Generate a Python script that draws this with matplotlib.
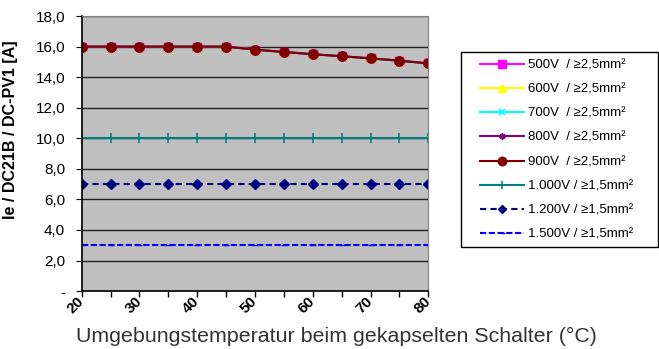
import numpy as np
import matplotlib.pyplot as plt
import matplotlib.transforms as mtransforms
from matplotlib.patches import Rectangle
from matplotlib.ticker import FixedLocator, FuncFormatter

temps = [20, 25, 30, 35, 40, 45, 50, 55, 60, 65, 70, 75, 80]
ie_2_5mm = [16.0, 16.0, 16.0, 16.0, 16.0, 16.0, 15.8, 15.65, 15.5, 15.37, 15.23, 15.08, 14.9]
ie_1000v = [10.0] * len(temps)
ie_1200v = [7.0] * len(temps)
ie_1500v = [3.0] * len(temps)

labels = ["500V  / \u22652,5mm\u00b2", "600V  / \u22652,5mm\u00b2", "700V  / \u22652,5mm\u00b2",
          "800V  / \u22652,5mm\u00b2", "900V  / \u22652,5mm\u00b2", "1.000V / \u22651,5mm\u00b2",
          "1.200V / \u22651,5mm\u00b2", "1.500V / \u22651,5mm\u00b2"]

plt.rcParams['font.family'] = ['Liberation Sans', 'DejaVu Sans']

fig = plt.figure(figsize=(6.59, 3.49), dpi=100)
ax = fig.add_axes([0.124, 0.166, 0.526, 0.788])
ax.set_facecolor('#c0c0c0')

ax.plot(temps, ie_2_5mm, color='#ff00ff', marker='s', ms=6.3, lw=1.5, label=labels[0])
ax.plot(temps, ie_2_5mm, color='#ffff00', marker='^', ms=5.8, lw=1.5, label=labels[1])
ax.plot(temps, ie_2_5mm, color='#00ffff', marker='x', ms=5, mew=1.2, lw=1.5, label=labels[2])
ax.plot(temps, ie_2_5mm, color='#800080', marker=(6, 2, 0), ms=5, mew=1.2, lw=1.5, label=labels[3])
ax.plot(temps, ie_2_5mm, color='#800000', marker='o', ms=6.8, lw=1.5, label=labels[4])
ax.plot(temps, ie_1000v, color='#008080', marker='+', ms=7, mew=1.2, lw=1.5, label=labels[5])
ax.plot(temps, ie_1200v, color='#000080', marker='D', ms=5, ls=(0, (3, 2)), lw=1.5, label=labels[6])
ax.plot(temps, ie_1500v, color='#0000ff', marker='_', ms=4, ls=(0, (3, 1.2)), lw=1.5, label=labels[7])

ax.set_xlim(20, 80)
ax.set_ylim(0, 18)
ax.xaxis.set_major_locator(FixedLocator([20, 30, 40, 50, 60, 70, 80]))
ax.xaxis.set_minor_locator(FixedLocator([25, 35, 45, 55, 65, 75]))
ax.set_yticks(np.arange(0, 19, 2))
ax.yaxis.set_major_formatter(FuncFormatter(lambda v, p: '-' if v == 0 else f'{v:.1f}'.replace('.', ',')))
ax.grid(axis='y', color='#202020', lw=1)
ax.set_axisbelow(True)
ax.tick_params(axis='x', which='both', direction='out', length=4, width=1, pad=-2)
ax.tick_params(axis='y', direction='out', length=4, labelsize=11, pad=8)
shift = mtransforms.ScaledTranslation(-6 / 100, 0, fig.dpi_scale_trans)
for lbl in ax.get_xticklabels():
    lbl.set_rotation(45)
    lbl.set_fontweight('bold')
    lbl.set_fontsize(11)
    lbl.set_ha('center')
    lbl.set_transform(lbl.get_transform() + shift)
ax.spines['top'].set_color('#808080')
ax.spines['right'].set_color('#808080')
ax.spines['left'].set_linewidth(1.2)
ax.spines['bottom'].set_linewidth(1.2)

fig.text(11 / 659, 1 - 130 / 349, 'Ie / DC21B / DC-PV1 [A]', rotation=90, fontweight='bold',
         fontsize=11.5, ha='center', va='center')
fig.text(336 / 659, 1 - 342 / 349, 'Umgebungstemperatur beim gekapselten Schalter (\u00b0C)',
         fontsize=15.4, color='#333333', ha='center', va='baseline')

fig.patches.append(Rectangle((461 / 659, 1 - 247 / 349), 197 / 659, 195 / 349,
                             transform=fig.transFigure, fill=False, edgecolor='black', lw=1))
leg = fig.legend(loc='upper left', bbox_to_anchor=(480 / 659, 1 - 59 / 349), fontsize=9.5,
                 frameon=False, handlelength=3.3, labelspacing=0.91, borderpad=0,
                 borderaxespad=0, handletextpad=0.35, markerscale=0.9)

fig.savefig('out.png', dpi=100)
